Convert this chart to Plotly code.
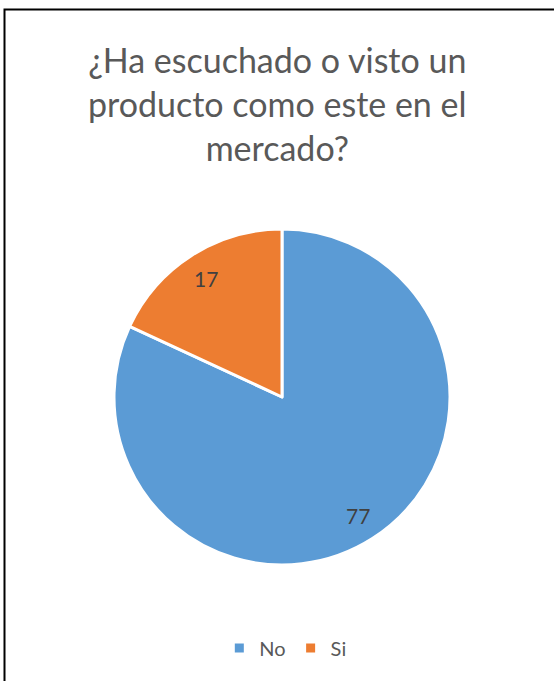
import math
import plotly.graph_objects as go

# Survey answers
categories = ["No", "Si"]
counts = [77, 17]
colors = ["#5B9BD5", "#ED7D31"]

title_text = "¿Ha escuchado o visto un<br>producto como este en el<br>mercado?"

W, H = 554, 681
cx, cy, r = 282, 397, 168
label_radius = 0.84  # fraction of the pie radius where value labels sit

fig = go.Figure(
    go.Pie(
        labels=categories,
        values=counts,
        sort=False,
        direction="clockwise",
        rotation=0,
        marker=dict(colors=colors, line=dict(color="white", width=3)),
        textinfo="none",
        hoverinfo="label+value+percent",
        domain=dict(
            x=[(cx - r) / W, (cx + r) / W],
            y=[1 - (cy + r) / H, 1 - (cy - r) / H],
        ),
    )
)

# value labels placed along each slice's mid-angle (clockwise from 12 o'clock)
annotations = []
total = sum(counts)
start = 0.0
for cat, val in zip(categories, counts):
    mid = (start + val / 2) / total * 2 * math.pi
    start += val
    px = cx + label_radius * r * math.sin(mid)
    py = cy - label_radius * r * math.cos(mid)
    annotations.append(
        dict(
            x=px / W,
            y=1 - py / H,
            xref="paper",
            yref="paper",
            text=str(val),
            showarrow=False,
            xanchor="center",
            yanchor="middle",
            font=dict(family="Lato, sans-serif", size=21, color="#404040"),
        )
    )

annotations.append(
    dict(
        x=0.5,
        y=1 - 103 / H,
        xref="paper",
        yref="paper",
        text=title_text,
        showarrow=False,
        xanchor="center",
        yanchor="middle",
        align="center",
        font=dict(family="Lato, sans-serif", size=34, color="#595959"),
    )
)

fig.update_layout(
    width=W,
    height=H,
    margin=dict(l=0, r=0, t=0, b=0),
    paper_bgcolor="white",
    plot_bgcolor="white",
    annotations=annotations,
    legend=dict(
        orientation="h",
        x=0.515,
        xanchor="center",
        y=1 - 648 / H,
        yanchor="middle",
        font=dict(family="Lato, sans-serif", size=20, color="#595959"),
        itemwidth=30,
    ),
    shapes=[
        dict(
            type="rect",
            xref="paper",
            yref="paper",
            x0=4.5 / W,
            x1=1.05,
            y0=-0.05,
            y1=1 - 9.5 / H,
            line=dict(color="black", width=2),
            fillcolor="rgba(0,0,0,0)",
        )
    ],
)

fig.write_html("out.html")
